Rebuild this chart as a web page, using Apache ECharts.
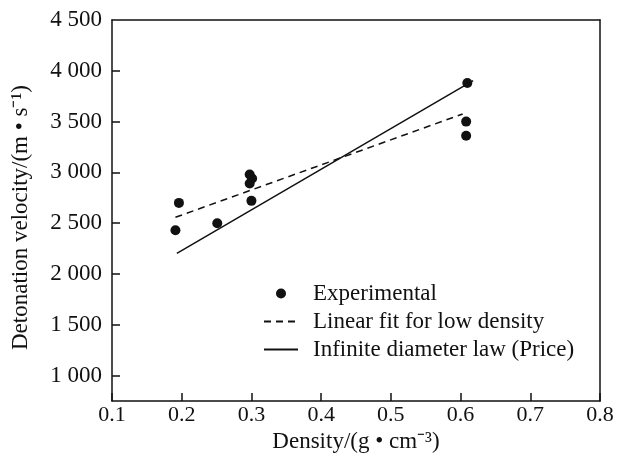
<!DOCTYPE html>
<html>
<head>
<meta charset="utf-8">
<script src="https://cdn.jsdelivr.net/npm/echarts@6/dist/echarts.min.js"></script>
<style>html,body{margin:0;padding:0;background:#fff}#c{width:617px;height:470px}</style>
</head>
<body>
<div id="c"></div>
<script>
// Experimental points
const expX = [0.191, 0.196, 0.251, 0.2975, 0.301, 0.2975, 0.300, 0.6097, 0.608, 0.608];
const expY = [2430, 2700, 2500, 2980, 2940, 2890, 2720, 3880, 3500, 3360];
// Linear fit for low density (endpoints)
const fitX = [0.191, 0.603];
const fitY = [2558, 3575];
// Infinite diameter law (Price) (endpoints)
const priceX = [0.193, 0.618];
const priceY = [2203, 3903];
// Tick values
const xTicks = [0.1, 0.2, 0.3, 0.4, 0.5, 0.6, 0.7, 0.8];
const yTicks = [1000, 1500, 2000, 2500, 3000, 3500, 4000, 4500];
const names = ['Experimental', 'Linear fit for low density', 'Infinite diameter law (Price)'];

const FONT = '"Liberation Serif", "Times New Roman", serif';
const TICK = '#111';
const zip = (a, b) => a.map((v, i) => [v, b[i]]);
const fmtY = v => { const s = String(v); return s.length > 3 ? s.slice(0, s.length - 3) + ' ' + s.slice(-3) : s; };
const frameAxis = (pos) => ({
  position: pos, type: 'value',
  axisLine: { show: true, onZero: false, lineStyle: { color: '#111', width: 1.5 } },
  axisTick: { show: false }, axisLabel: { show: false }, splitLine: { show: false }
});

const chart = echarts.init(document.getElementById('c'));
chart.setOption({
  animation: false,
  backgroundColor: '#fff',
  grid: { left: 112, right: 17, top: 20, bottom: 69 },
  xAxis: [{
    type: 'value', min: 0.1, max: 0.8, interval: 0.1, position: 'bottom',
    name: 'Density/(g \u2022 cm\u207b\u00b3)', nameLocation: 'middle', nameGap: 11,
    nameTextStyle: { fontFamily: FONT, fontSize: 23, color: '#111' },
    axisLine: { show: true, onZero: false, lineStyle: { color: '#111', width: 1.5 } },
    axisTick: { show: true, inside: true, length: 8, lineStyle: { color: TICK, width: 1.5 } },
    axisLabel: { fontFamily: FONT, fontSize: 22, color: '#111', margin: 3, formatter: v => v.toFixed(1) },
    splitLine: { show: false }
  }, Object.assign(frameAxis('top'), { min: 0.1, max: 0.8 })],
  yAxis: [{
    type: 'value', min: 750, max: 4500, position: 'left',
    name: 'Detonation velocity/(m \u2022 s\u207b\u00b9)', nameLocation: 'middle', nameGap: 80,
    nameTextStyle: { fontFamily: FONT, fontSize: 23, color: '#111', padding: [0, 14, 0, 0] },
    axisLine: { show: true, onZero: false, lineStyle: { color: '#111', width: 1.5 } },
    axisTick: { show: true, inside: true, length: 8, lineStyle: { color: TICK, width: 1.5 }, customValues: yTicks.slice(0, -1) },
    axisLabel: { fontFamily: FONT, fontSize: 23, color: '#111', margin: 10, customValues: yTicks, formatter: fmtY },
    splitLine: { show: false }
  }, Object.assign(frameAxis('right'), { min: 750, max: 4500 })],
  legend: {
    orient: 'vertical', left: 263, top: 282, padding: 0,
    itemWidth: 34, itemHeight: 10, itemGap: 5,
    textStyle: { fontFamily: FONT, fontSize: 23, color: '#111', lineHeight: 22, padding: [0, 0, 0, 10] },
    data: [{ name: names[0] }, { name: names[1], itemStyle: { opacity: 0 } }, { name: names[2], itemStyle: { opacity: 0 } }]
  },
  series: [
    { name: names[0], type: 'scatter', data: zip(expX, expY), symbol: 'circle', symbolSize: 10, itemStyle: { color: '#111', opacity: 1 } },
    { name: names[1], type: 'line', data: zip(fitX, fitY), showSymbol: false, symbol: 'none',
      lineStyle: { color: '#111', width: 1.5, type: [7, 5] }, itemStyle: { color: 'rgba(0,0,0,0)' } },
    { name: names[2], type: 'line', data: zip(priceX, priceY), showSymbol: false, symbol: 'none',
      lineStyle: { color: '#111', width: 1.5 }, itemStyle: { color: 'rgba(0,0,0,0)' } }
  ]
});
</script>
</body>
</html>
